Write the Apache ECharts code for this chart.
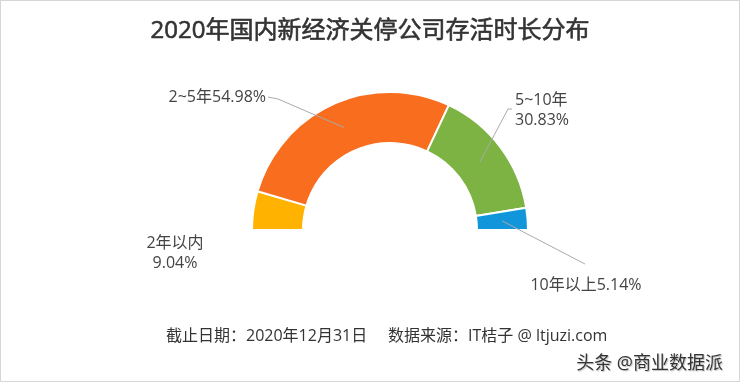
<!DOCTYPE html>
<html><head><meta charset="utf-8">
<script src="https://cdn.jsdelivr.net/npm/echarts@6/dist/echarts.min.js"></script>
<style>
html,body{margin:0;padding:0;background:#fff;}
#c{position:absolute;left:0;top:0;width:740px;height:382px;}
#b{position:absolute;left:0;top:0;width:740px;height:382px;box-sizing:border-box;border:1px solid #d6d6d6;pointer-events:none;}
</style></head>
<body><div id="c"></div><div id="b"></div>
<script>
const titleText = '2020年国内新经济关停公司存活时长分布';
const categories = ['2年以内', '2~5年', '5~10年', '10年以上'];
const values = [9.04, 54.98, 30.83, 5.14];
const colors = ['#FFB300', '#F96D1F', '#7CB342', '#1296DB'];
const labelTexts = ['2年以内\n9.04%', '2~5年54.98%', '5~10年\n30.83%', '10年以上5.14%'];
const footerText = '截止日期：2020年12月31日     数据来源：IT桔子 @ ltjuzi.com';
const watermark = '头条 @商业数据派';

const font = '"Open Sans", "Noto Sans CJK SC", sans-serif';
const chart = echarts.init(document.getElementById('c'));

const CX = 390, CY = 230, R0 = 87, R1 = 138;
const total = values.reduce((a, b) => a + b, 0);
function midPoint(i) {
  let cum = 0;
  for (let k = 0; k < i; k++) cum += values[k];
  const ang = (180 - (cum + values[i] / 2) / total * 180) * Math.PI / 180;
  const rm = (R0 + R1) / 2;
  return [CX + rm * Math.cos(ang), CY - rm * Math.sin(ang)];
}

const ringData = categories.map((n, i) => ({name: n, value: values[i], itemStyle: {color: colors[i]}}));
const labelData = categories.map((n, i) => ({
  name: n, value: values[i],
  label: {formatter: labelTexts[i]},
  labelLine: {show: i !== 0}
}));
const labelPos = [
  {x: 175, y: 253, align: 'center', verticalAlign: 'middle'},
  {x: 266, y: 97, align: 'right', verticalAlign: 'middle', line: [[268, 97], [278, 99]]},
  {x: 515, y: 110, align: 'left', verticalAlign: 'middle', line: [[512, 109], [508, 109]]},
  {x: 586, y: 285, align: 'center', verticalAlign: 'middle', line: [[585, 264], [585, 264]]}
];

chart.setOption({
  animation: false,
  title: [
    {text: titleText, left: 'center', top: 14, textStyle: {fontFamily: font, fontSize: 24, fontWeight: 'normal', color: '#333', textBorderColor: '#333', textBorderWidth: 0.6}},
    {text: footerText, left: 161, top: 323, textStyle: {fontFamily: font, fontSize: 16, fontWeight: 'normal', color: '#333'}},
    {text: watermark, right: 12, top: 350, textStyle: {fontFamily: font, fontSize: 18, fontWeight: 'normal', color: '#333', textShadowColor: 'rgba(0,0,0,0.25)', textShadowBlur: 1, textShadowOffsetX: 1, textShadowOffsetY: 1}}
  ],
  series: [
    {
      type: 'pie', z: 2, center: [CX, CY], radius: [R0, R1],
      startAngle: 180, endAngle: 0, clockwise: true, silent: true,
      itemStyle: {borderColor: '#fff', borderWidth: 2},
      label: {show: false}, labelLine: {show: false},
      data: ringData
    },
    {
      type: 'pie', z: 5, center: [CX, CY], radius: [R0, R1],
      startAngle: 180, endAngle: 0, clockwise: true, silent: true,
      itemStyle: {color: 'rgba(0,0,0,0)', borderWidth: 0},
      label: {show: true, position: 'outside', fontFamily: font, fontSize: 16, color: '#444', lineHeight: 20},
      labelLine: {show: true, lineStyle: {color: '#aaa', width: 1}},
      labelLayout: function (p) {
        const lp = labelPos[p.dataIndex];
        const o = {x: lp.x, y: lp.y, align: lp.align, verticalAlign: lp.verticalAlign};
        if (lp.line) {
          const m = midPoint(p.dataIndex);
          if (p.dataIndex === 3) o.labelLinePoints = [m, lp.line[0], lp.line[1]];
          else o.labelLinePoints = [m, lp.line[1], lp.line[0]];
        }
        return o;
      },
      data: labelData
    }
  ]
});
</script></body></html>
